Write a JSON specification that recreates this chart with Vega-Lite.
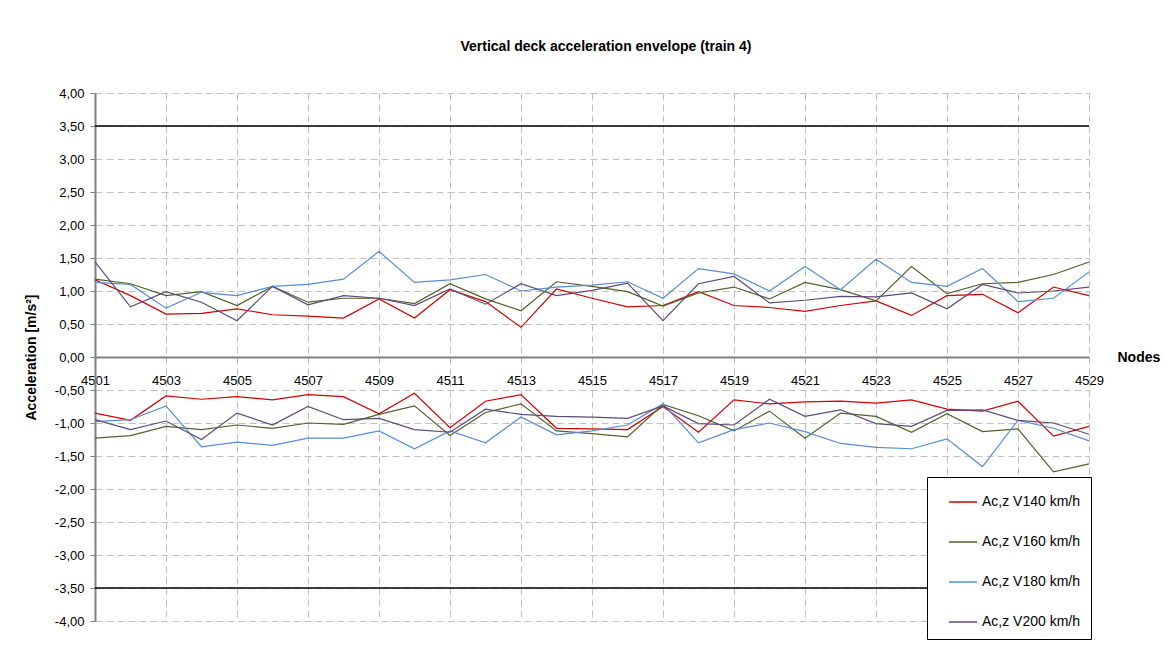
{
  "$schema": "https://vega.github.io/schema/vega-lite/v6.json",
  "width": 994,
  "height": 528,
  "autosize": "none",
  "padding": {"left": 95, "top": 93, "right": 79, "bottom": 33},
  "background": "white",
  "config": {
    "font": "Liberation Sans",
    "view": {"stroke": null},
    "axis": {"labelOverlap": false}
  },
  "title": {
    "text": "Vertical deck acceleration envelope (train 4)",
    "font": "Liberation Sans",
    "fontSize": 14,
    "fontWeight": "bold",
    "color": "#000",
    "anchor": "middle",
    "baseline": "middle",
    "offset": 26,
    "dx": 14
  },
  "encoding": {
    "y": {
      "field": "a",
      "type": "quantitative",
      "scale": {"domain": [-4, 4], "nice": false},
      "axis": {
        "values": [-4,-3.5,-3,-2.5,-2,-1.5,-1,-0.5,0,0.5,1,1.5,2,2.5,3,3.5,4],
        "labelExpr": "(datum.value < 0 ? '-' : '') + replace(format(abs(datum.value), '.2f'), '.', ',')",
        "grid": true,
        "gridDash": [7, 4],
        "gridColor": "#c0c0c0",
        "gridWidth": 1,
        "domainColor": "#808080",
        "domainWidth": 2,
        "tickColor": "#808080",
        "tickSize": 5,
        "labelPadding": 6,
        "labelFont": "Liberation Sans",
        "labelFontSize": 13,
        "labelColor": "#000",
        "labelOverlap": false,
        "labelFlush": false,
        "title": "Acceleration [m/s²]",
        "titleFont": "Liberation Sans",
        "titleFontSize": 14,
        "titleFontWeight": "bold",
        "titleColor": "#000",
        "titlePadding": 16
      }
    }
  },
  "layer": [
    {
      "data": {
        "values": [
          {"n":4501,"e":"u","Ac,z V140 km/h":1.17,"Ac,z V160 km/h":1.18,"Ac,z V180 km/h":1.13,"Ac,z V200 km/h":1.44},
          {"n":4502,"e":"u","Ac,z V140 km/h":0.93,"Ac,z V160 km/h":1.11,"Ac,z V180 km/h":1.10,"Ac,z V200 km/h":0.76},
          {"n":4503,"e":"u","Ac,z V140 km/h":0.65,"Ac,z V160 km/h":0.93,"Ac,z V180 km/h":0.74,"Ac,z V200 km/h":0.99},
          {"n":4504,"e":"u","Ac,z V140 km/h":0.66,"Ac,z V160 km/h":0.99,"Ac,z V180 km/h":0.98,"Ac,z V200 km/h":0.83},
          {"n":4505,"e":"u","Ac,z V140 km/h":0.73,"Ac,z V160 km/h":0.78,"Ac,z V180 km/h":0.93,"Ac,z V200 km/h":0.55},
          {"n":4506,"e":"u","Ac,z V140 km/h":0.64,"Ac,z V160 km/h":1.07,"Ac,z V180 km/h":1.07,"Ac,z V200 km/h":1.07},
          {"n":4507,"e":"u","Ac,z V140 km/h":0.62,"Ac,z V160 km/h":0.83,"Ac,z V180 km/h":1.10,"Ac,z V200 km/h":0.79},
          {"n":4508,"e":"u","Ac,z V140 km/h":0.59,"Ac,z V160 km/h":0.89,"Ac,z V180 km/h":1.18,"Ac,z V200 km/h":0.93},
          {"n":4509,"e":"u","Ac,z V140 km/h":0.88,"Ac,z V160 km/h":0.89,"Ac,z V180 km/h":1.60,"Ac,z V200 km/h":0.89},
          {"n":4510,"e":"u","Ac,z V140 km/h":0.59,"Ac,z V160 km/h":0.81,"Ac,z V180 km/h":1.13,"Ac,z V200 km/h":0.78},
          {"n":4511,"e":"u","Ac,z V140 km/h":1.02,"Ac,z V160 km/h":1.11,"Ac,z V180 km/h":1.17,"Ac,z V200 km/h":1.03},
          {"n":4512,"e":"u","Ac,z V140 km/h":0.84,"Ac,z V160 km/h":0.88,"Ac,z V180 km/h":1.25,"Ac,z V200 km/h":0.80},
          {"n":4513,"e":"u","Ac,z V140 km/h":0.45,"Ac,z V160 km/h":0.70,"Ac,z V180 km/h":1.00,"Ac,z V200 km/h":1.11},
          {"n":4514,"e":"u","Ac,z V140 km/h":1.03,"Ac,z V160 km/h":1.14,"Ac,z V180 km/h":1.06,"Ac,z V200 km/h":0.93},
          {"n":4515,"e":"u","Ac,z V140 km/h":0.89,"Ac,z V160 km/h":1.07,"Ac,z V180 km/h":1.09,"Ac,z V200 km/h":1.01},
          {"n":4516,"e":"u","Ac,z V140 km/h":0.76,"Ac,z V160 km/h":0.99,"Ac,z V180 km/h":1.14,"Ac,z V200 km/h":1.12},
          {"n":4517,"e":"u","Ac,z V140 km/h":0.78,"Ac,z V160 km/h":0.77,"Ac,z V180 km/h":0.89,"Ac,z V200 km/h":0.55},
          {"n":4518,"e":"u","Ac,z V140 km/h":0.99,"Ac,z V160 km/h":0.97,"Ac,z V180 km/h":1.34,"Ac,z V200 km/h":1.11},
          {"n":4519,"e":"u","Ac,z V140 km/h":0.78,"Ac,z V160 km/h":1.06,"Ac,z V180 km/h":1.26,"Ac,z V200 km/h":1.22},
          {"n":4520,"e":"u","Ac,z V140 km/h":0.75,"Ac,z V160 km/h":0.88,"Ac,z V180 km/h":1.00,"Ac,z V200 km/h":0.82},
          {"n":4521,"e":"u","Ac,z V140 km/h":0.69,"Ac,z V160 km/h":1.13,"Ac,z V180 km/h":1.37,"Ac,z V200 km/h":0.86},
          {"n":4522,"e":"u","Ac,z V140 km/h":0.78,"Ac,z V160 km/h":1.02,"Ac,z V180 km/h":1.02,"Ac,z V200 km/h":0.92},
          {"n":4523,"e":"u","Ac,z V140 km/h":0.85,"Ac,z V160 km/h":0.85,"Ac,z V180 km/h":1.48,"Ac,z V200 km/h":0.91},
          {"n":4524,"e":"u","Ac,z V140 km/h":0.63,"Ac,z V160 km/h":1.37,"Ac,z V180 km/h":1.13,"Ac,z V200 km/h":0.97},
          {"n":4525,"e":"u","Ac,z V140 km/h":0.93,"Ac,z V160 km/h":0.96,"Ac,z V180 km/h":1.07,"Ac,z V200 km/h":0.73},
          {"n":4526,"e":"u","Ac,z V140 km/h":0.95,"Ac,z V160 km/h":1.11,"Ac,z V180 km/h":1.34,"Ac,z V200 km/h":1.10},
          {"n":4527,"e":"u","Ac,z V140 km/h":0.67,"Ac,z V160 km/h":1.13,"Ac,z V180 km/h":0.84,"Ac,z V200 km/h":0.97},
          {"n":4528,"e":"u","Ac,z V140 km/h":1.06,"Ac,z V160 km/h":1.25,"Ac,z V180 km/h":0.89,"Ac,z V200 km/h":1.00},
          {"n":4529,"e":"u","Ac,z V140 km/h":0.93,"Ac,z V160 km/h":1.44,"Ac,z V180 km/h":1.29,"Ac,z V200 km/h":1.06},
          {"n":4501,"e":"l","Ac,z V140 km/h":-0.85,"Ac,z V160 km/h":-1.23,"Ac,z V180 km/h":-0.98,"Ac,z V200 km/h":-0.95},
          {"n":4502,"e":"l","Ac,z V140 km/h":-0.96,"Ac,z V160 km/h":-1.19,"Ac,z V180 km/h":-0.95,"Ac,z V200 km/h":-1.10},
          {"n":4503,"e":"l","Ac,z V140 km/h":-0.59,"Ac,z V160 km/h":-1.05,"Ac,z V180 km/h":-0.74,"Ac,z V200 km/h":-0.97},
          {"n":4504,"e":"l","Ac,z V140 km/h":-0.64,"Ac,z V160 km/h":-1.10,"Ac,z V180 km/h":-1.36,"Ac,z V200 km/h":-1.25},
          {"n":4505,"e":"l","Ac,z V140 km/h":-0.60,"Ac,z V160 km/h":-1.03,"Ac,z V180 km/h":-1.29,"Ac,z V200 km/h":-0.85},
          {"n":4506,"e":"l","Ac,z V140 km/h":-0.65,"Ac,z V160 km/h":-1.08,"Ac,z V180 km/h":-1.34,"Ac,z V200 km/h":-1.03},
          {"n":4507,"e":"l","Ac,z V140 km/h":-0.57,"Ac,z V160 km/h":-1.00,"Ac,z V180 km/h":-1.23,"Ac,z V200 km/h":-0.75},
          {"n":4508,"e":"l","Ac,z V140 km/h":-0.60,"Ac,z V160 km/h":-1.02,"Ac,z V180 km/h":-1.23,"Ac,z V200 km/h":-0.95},
          {"n":4509,"e":"l","Ac,z V140 km/h":-0.86,"Ac,z V160 km/h":-0.87,"Ac,z V180 km/h":-1.12,"Ac,z V200 km/h":-0.93},
          {"n":4510,"e":"l","Ac,z V140 km/h":-0.55,"Ac,z V160 km/h":-0.74,"Ac,z V180 km/h":-1.39,"Ac,z V200 km/h":-1.10},
          {"n":4511,"e":"l","Ac,z V140 km/h":-1.07,"Ac,z V160 km/h":-1.19,"Ac,z V180 km/h":-1.12,"Ac,z V200 km/h":-1.14},
          {"n":4512,"e":"l","Ac,z V140 km/h":-0.67,"Ac,z V160 km/h":-0.84,"Ac,z V180 km/h":-1.30,"Ac,z V200 km/h":-0.79},
          {"n":4513,"e":"l","Ac,z V140 km/h":-0.57,"Ac,z V160 km/h":-0.71,"Ac,z V180 km/h":-0.91,"Ac,z V200 km/h":-0.87},
          {"n":4514,"e":"l","Ac,z V140 km/h":-1.08,"Ac,z V160 km/h":-1.12,"Ac,z V180 km/h":-1.18,"Ac,z V200 km/h":-0.90},
          {"n":4515,"e":"l","Ac,z V140 km/h":-1.09,"Ac,z V160 km/h":-1.16,"Ac,z V180 km/h":-1.12,"Ac,z V200 km/h":-0.91},
          {"n":4516,"e":"l","Ac,z V140 km/h":-1.10,"Ac,z V160 km/h":-1.21,"Ac,z V180 km/h":-1.03,"Ac,z V200 km/h":-0.93},
          {"n":4517,"e":"l","Ac,z V140 km/h":-0.75,"Ac,z V160 km/h":-0.72,"Ac,z V180 km/h":-0.71,"Ac,z V200 km/h":-0.74},
          {"n":4518,"e":"l","Ac,z V140 km/h":-1.14,"Ac,z V160 km/h":-0.89,"Ac,z V180 km/h":-1.30,"Ac,z V200 km/h":-1.01},
          {"n":4519,"e":"l","Ac,z V140 km/h":-0.65,"Ac,z V160 km/h":-1.12,"Ac,z V180 km/h":-1.10,"Ac,z V200 km/h":-1.03},
          {"n":4520,"e":"l","Ac,z V140 km/h":-0.71,"Ac,z V160 km/h":-0.82,"Ac,z V180 km/h":-1.00,"Ac,z V200 km/h":-0.64},
          {"n":4521,"e":"l","Ac,z V140 km/h":-0.68,"Ac,z V160 km/h":-1.23,"Ac,z V180 km/h":-1.13,"Ac,z V200 km/h":-0.90},
          {"n":4522,"e":"l","Ac,z V140 km/h":-0.67,"Ac,z V160 km/h":-0.85,"Ac,z V180 km/h":-1.31,"Ac,z V200 km/h":-0.80},
          {"n":4523,"e":"l","Ac,z V140 km/h":-0.70,"Ac,z V160 km/h":-0.90,"Ac,z V180 km/h":-1.37,"Ac,z V200 km/h":-1.01},
          {"n":4524,"e":"l","Ac,z V140 km/h":-0.65,"Ac,z V160 km/h":-1.14,"Ac,z V180 km/h":-1.39,"Ac,z V200 km/h":-1.05},
          {"n":4525,"e":"l","Ac,z V140 km/h":-0.79,"Ac,z V160 km/h":-0.86,"Ac,z V180 km/h":-1.24,"Ac,z V200 km/h":-0.81},
          {"n":4526,"e":"l","Ac,z V140 km/h":-0.82,"Ac,z V160 km/h":-1.13,"Ac,z V180 km/h":-1.66,"Ac,z V200 km/h":-0.80},
          {"n":4527,"e":"l","Ac,z V140 km/h":-0.67,"Ac,z V160 km/h":-1.09,"Ac,z V180 km/h":-0.96,"Ac,z V200 km/h":-0.96},
          {"n":4528,"e":"l","Ac,z V140 km/h":-1.20,"Ac,z V160 km/h":-1.74,"Ac,z V180 km/h":-1.08,"Ac,z V200 km/h":-1.00},
          {"n":4529,"e":"l","Ac,z V140 km/h":-1.05,"Ac,z V160 km/h":-1.62,"Ac,z V180 km/h":-1.27,"Ac,z V200 km/h":-1.17}
        ]
      },
      "transform": [
        {"fold": ["Ac,z V140 km/h", "Ac,z V160 km/h", "Ac,z V180 km/h", "Ac,z V200 km/h"], "as": ["s", "a"]}
      ],
      "mark": {"type": "line", "strokeWidth": 1.2, "clip": false},
      "encoding": {
        "x": {
          "field": "n",
          "type": "quantitative",
          "scale": {"domain": [4501, 4529], "nice": false, "zero": false},
          "axis": {
            "values": [4501,4503,4505,4507,4509,4511,4513,4515,4517,4519,4521,4523,4525,4527,4529],
            "format": "d",
            "offset": -264,
            "grid": true,
            "gridDash": [7, 4],
            "gridColor": "#c0c0c0",
            "gridWidth": 1,
            "domainColor": "#808080",
            "domainWidth": 2,
            "ticks": false,
            "labelPadding": 17,
            "labelFlush": false,
            "labelFont": "Liberation Sans",
            "labelFontSize": 13,
            "labelColor": "#000",
            "labelOverlap": false,
            "labelBound": false,
            "title": "Nodes",
            "titleFont": "Liberation Sans",
            "titleFontSize": 14,
            "titleFontWeight": "bold",
            "titleColor": "#000",
            "titleX": 1022,
            "titleY": 0,
            "titleAlign": "left",
            "titleBaseline": "middle",
            "titleAnchor": null
          }
        },
        "color": {
          "field": "s",
          "type": "nominal",
          "scale": {
            "domain": ["Ac,z V140 km/h", "Ac,z V160 km/h", "Ac,z V180 km/h", "Ac,z V200 km/h"],
            "range": ["#d40000", "#4f6228", "#558ed5", "#5f497a"]
          },
          "legend": {
            "orient": "none",
            "legendX": 832,
            "legendY": 384,
            "title": null,
            "strokeColor": "#000",
            "fillColor": "#ffffff",
            "padding": 10,
            "symbolType": "stroke",
            "symbolSize": 784,
            "symbolStrokeWidth": 1.5,
            "symbolOffset": 11,
            "labelFont": "Liberation Sans",
            "labelFontSize": 14,
            "labelColor": "#000",
            "labelOffset": 4,
            "labelExpr": "datum.label + '\u00a0\u00a0\u00a0\u00a0'",
            "rowPadding": 18
          }
        },
        "detail": {"field": "e", "type": "nominal"}
      }
    },
    {
      "data": {"values": [{"a": 3.5}, {"a": -3.5}]},
      "mark": {"type": "rule", "color": "#000", "strokeWidth": 1.3}
    }
  ]
}
